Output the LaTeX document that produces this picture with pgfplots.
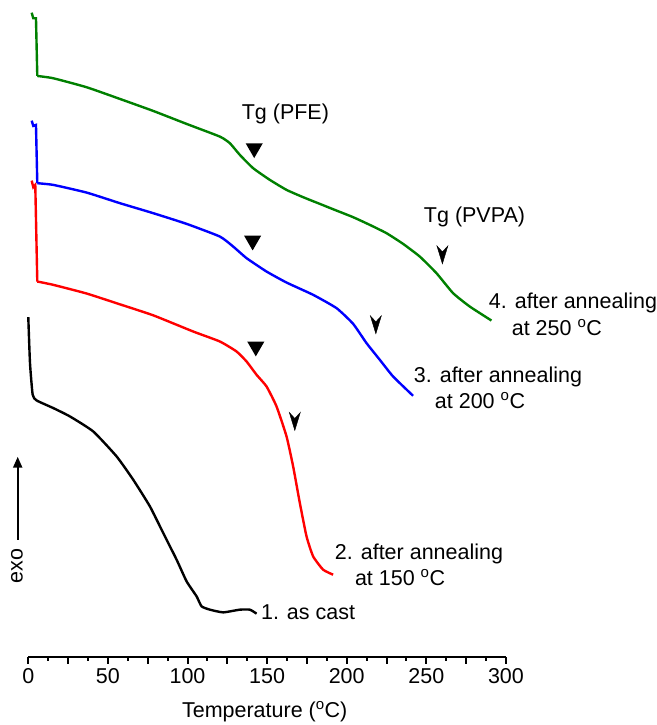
\documentclass[border=0pt]{standalone}
\usepackage{fontspec}
\setmainfont{Liberation Sans}
\usepackage{pgfplots}
\pgfplotsset{compat=1.18}
\usetikzlibrary{arrows.meta}

% downward arrowhead used for Tg (PVPA)
\pgfdeclareplotmark{vhead}{%
  \pgfpathmoveto{\pgfpoint{0pt}{-9pt}}%
  \pgfpathlineto{\pgfpoint{-5.5pt}{9pt}}%
  \pgfpathlineto{\pgfpoint{0pt}{3pt}}%
  \pgfpathlineto{\pgfpoint{5.5pt}{9pt}}%
  \pgfpathclose\pgfusepathqfillstroke}

\definecolor{dscgreen}{RGB}{0,128,0}
\newcommand{\lbl}{\fontsize{21.5}{25}\selectfont}

\begin{document}
\begin{tikzpicture}
\begin{axis}[
  scale only axis,
  width=477.9pt, height=657.7pt,
  xmin=0, xmax=300, ymin=67.3, ymax=725,
  clip=false,
  axis x line*=bottom, axis y line=none,
  x axis line style={line width=2.2pt},
  xtick={0,25,...,300},
  xticklabels={0,,50,,100,,150,,200,,250,,300},
  minor x tick num=1,
  tick align=outside,
  major tick length=6.5pt, minor tick length=3.5pt,
  every tick/.style={black, line width=2pt},
  ytick=\empty,
  /pgf/number format/assume math mode=true,
  xticklabel style={font=\lbl, yshift=-1pt},
  xlabel={Temperature (\textsuperscript{o}C)},
  xlabel style={font=\lbl, at={(0.495,-0.0826)}, anchor=center},
  every axis plot/.append style={line width=2.4pt},
]
% 1. as cast
\addplot[black, smooth, tension=0.3] coordinates {
  (0,407.7) (1.07,361.7) (2.76,330) (5.27,324.3) (15.69,316.7) (26.18,308.3)
  (40.80,293.3) (55.49,268.3) (65.91,245) (76.40,218.3) (84.75,191.7)
  (93.16,165) (99.44,143.3) (105.71,128.3) (108.85,118.3) (114.06,115)
  (122.41,112.3) (132.89,115) (139.17,115) (143.38,111)
};
% 2. after annealing at 150 C
\addplot[red] coordinates {
  (2.13,544.3) (3.14,537.7) (4.39,540) (5.65,443.3)
};
\addplot[red, smooth, tension=0.3] coordinates {
  (5.65,443.3) (15.69,440) (36.66,431.3) (57.56,420.5) (78.47,409.5)
  (103.58,393.3) (120.34,383.3) (130.82,373.3) (137.10,363.3) (143.38,350)
  (149.65,338.3) (155.93,318.3) (162.21,288.3) (166.35,258.3) (170.56,221.7)
  (174.76,188.3) (178.91,168.3) (185.18,155) (191.46,150)
};
% 3. after annealing at 200 C
\addplot[blue] coordinates {
  (2.13,604.3) (3.14,599) (4.83,600) (5.65,541.7)
};
\addplot[blue, smooth, tension=0.3] coordinates {
  (5.65,541.7) (15.69,540) (36.66,532.3) (57.56,521.7) (78.47,511.7)
  (99.44,501) (120.34,488.3) (128.69,478.3) (137.10,466.7) (149.65,453.3)
  (162.21,442.3) (178.91,430) (193.60,416.7) (204.02,401) (212.43,381.7)
  (220.78,365) (229.13,348.3) (241.68,329)
};
% 4. after annealing at 250 C
\addplot[dscgreen] coordinates {
  (2.13,712.3) (3.14,706.7) (4.83,706.7) (5.65,649)
};
\addplot[dscgreen, smooth, tension=0.3] coordinates {
  (5.65,649) (15.69,646.7) (36.66,637.7) (57.56,626) (78.47,614) (99.44,601)
  (120.34,588.3) (126.62,581.7) (132.89,570) (141.24,556.7) (151.73,545)
  (162.21,535) (172.63,527.7) (183.11,521) (193.60,514.3) (204.02,507.7)
  (214.50,500) (224.98,491.7) (235.40,481) (245.89,468.3) (256.37,451.7)
  (266.79,431.7) (277.27,418.3) (290.90,404.3)
};
% Tg (PFE) markers
\addplot[only marks, mark=triangle*, mark size=7.5pt, black,
  every mark/.append style={rotate=180}] coordinates {
  (141.9,576.7) (140.9,484.3) (142.9,378.3)
};
% Tg (PVPA) markers
\addplot[only marks, mark=vhead, black, line width=0.4pt] coordinates {
  (260.1,470) (218.3,400) (167.4,303.3)
};

\node[font=\lbl] at (axis cs:161.5,611) {Tg (PFE)};
\node[font=\lbl, anchor=west, inner sep=0pt] at (axis cs:248.4,508) {Tg (PVPA)};
\node[font=\lbl, anchor=west, inner sep=0pt] at (axis cs:289.2,422) {4. after annealing};
\node[font=\lbl, anchor=west, inner sep=0pt] at (axis cs:303.6,397) {at 250 \textsuperscript{o}C};
\node[font=\lbl, anchor=west, inner sep=0pt] at (axis cs:242.1,348) {3. after annealing};
\node[font=\lbl, anchor=west, inner sep=0pt] at (axis cs:255.3,324) {at 200 \textsuperscript{o}C};
\node[font=\lbl, anchor=west, inner sep=0pt] at (axis cs:192.5,171) {2. after annealing};
\node[font=\lbl, anchor=west, inner sep=0pt] at (axis cs:205.1,147) {at 150 \textsuperscript{o}C};
\node[font=\lbl, anchor=west, inner sep=0pt] at (axis cs:146.1,112) {1. as cast};
\draw[-{Triangle[length=11pt,width=9pt]}, line width=2.2pt] (axis cs:-6.65,185) -- (axis cs:-6.65,268);
\node[font=\lbl, rotate=90] at (axis cs:-7.09,159) {exo};

% page frame matching the reference size
\path (axis cs:-17.77,0) rectangle (axis cs:394.67,725);
\end{axis}
\end{tikzpicture}
\end{document}
